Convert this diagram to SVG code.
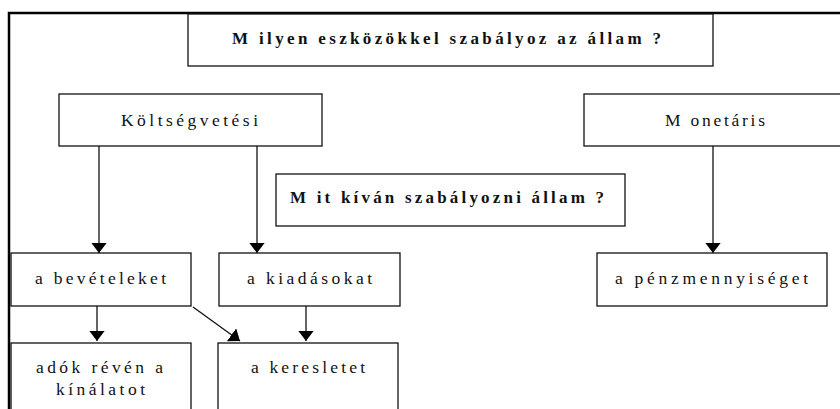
<svg xmlns="http://www.w3.org/2000/svg" width="840" height="409" viewBox="0 0 840 409">
<style>
.box{fill:#fff;stroke:#111;stroke-width:1.3}
.t{font-family:"Liberation Serif","Times New Roman",serif;font-size:17.5px;fill:#111}
.b{font-weight:bold;font-size:17px}
.c{stroke:#111;stroke-width:1.3;fill:none;marker-end:url(#ah)}
</style>
<defs>
<marker id="ah" markerUnits="userSpaceOnUse" markerWidth="11" markerHeight="16" refX="10.5" refY="8" orient="auto" viewBox="0 0 11 16">
<path d="M0,0 L10.5,8 L0,16 z" fill="#000"/>
</marker>
</defs>
<rect width="840" height="409" fill="#fff"/>
<path d="M9,409 V13 H840" fill="none" stroke="#000" stroke-width="2.5"/>
<g id="title"><rect class="box" x="188" y="14" width="525" height="52"/><text class="t b" x="232" y="44" textLength="429" lengthAdjust="spacing">M ilyen eszközökkel szabályoz az állam ?</text></g>
<g id="koltsegvetesi"><rect class="box" x="59" y="94" width="263" height="52"/><text class="t" x="121" y="126" textLength="137" lengthAdjust="spacing">Költségvetési</text></g>
<g id="monetaris"><rect class="box" x="584" y="94" width="270" height="52"/><text class="t" x="665" y="126" textLength="100" lengthAdjust="spacing">M onetáris</text></g>
<g id="mit"><rect class="box" x="276" y="174" width="349" height="52"/><text class="t b" x="290" y="203" textLength="314" lengthAdjust="spacing">M it kíván szabályozni állam ?</text></g>
<g id="bevetelek"><rect class="box" x="11" y="253" width="180" height="53"/><text class="t" x="35" y="284" textLength="131" lengthAdjust="spacing">a bevételeket</text></g>
<g id="kiadasok"><rect class="box" x="219" y="253" width="181" height="53"/><text class="t" x="247" y="284" textLength="125" lengthAdjust="spacing">a kiadásokat</text></g>
<g id="penz"><rect class="box" x="597" y="253" width="230" height="53"/><text class="t" x="615" y="284" textLength="193" lengthAdjust="spacing">a pénzmennyiséget</text></g>
<g id="adok"><rect class="box" x="11" y="343" width="180" height="80"/><text class="t" x="36" y="373" textLength="127" lengthAdjust="spacing">adók révén a</text><text class="t" x="56" y="395" textLength="89" lengthAdjust="spacing">kínálatot</text></g>
<g id="kereslet"><rect class="box" x="218" y="343" width="180" height="80"/><text class="t" x="251" y="373" textLength="114" lengthAdjust="spacing">a keresletet</text></g>
<g id="connectors">
<line class="c" x1="99" y1="146" x2="99" y2="253"/>
<line class="c" x1="257" y1="146" x2="257" y2="253"/>
<line class="c" x1="713" y1="146" x2="713" y2="253"/>
<line class="c" x1="97" y1="306" x2="97" y2="341"/>
<line class="c" x1="306" y1="306" x2="306" y2="341"/>
<line class="c" x1="193" y1="307" x2="240" y2="341"/>
</g>
</svg>
